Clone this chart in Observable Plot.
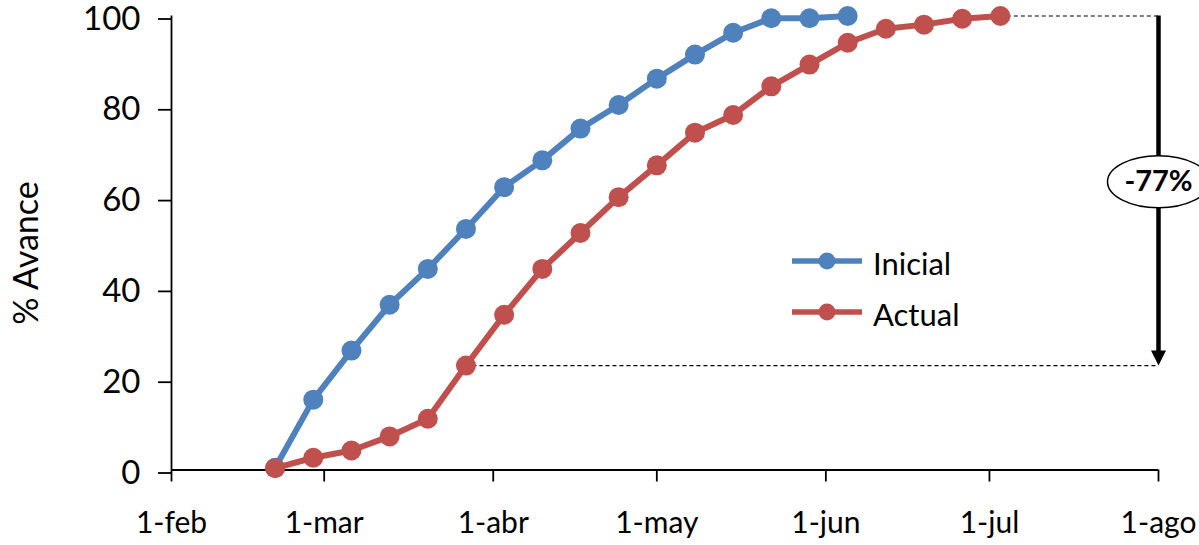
<!DOCTYPE html>
<html>
<head>
<meta charset="utf-8">
<script src="https://cdn.jsdelivr.net/npm/d3@7"></script>
<script src="https://cdn.jsdelivr.net/npm/@observablehq/plot@0.6"></script>
<style>
  html, body { margin: 0; padding: 0; background: #fff; }
  #chart { position: relative; width: 1199px; height: 545px; overflow: hidden; font-family: Lato, "Open Sans", sans-serif; }
  .leg { position: absolute; display: flex; align-items: center; font-size: 31px; color: #000; }
  .leg svg { margin-right: 11px; }
  .leg span { position: relative; top: 2px; }
</style>
</head>
<body>
<div id="chart"></div>
<script>
// ---- data ----
const fechas = ["2011-02-20","2011-02-27","2011-03-06","2011-03-13","2011-03-20","2011-03-27",
  "2011-04-03","2011-04-10","2011-04-17","2011-04-24","2011-05-01","2011-05-08","2011-05-15",
  "2011-05-22","2011-05-29","2011-06-05","2011-06-12","2011-06-19","2011-06-26","2011-07-03"];
const inicial = [0.5, 15.5, 26.3, 36.4, 44.3, 53.1, 62.3, 68.2, 75.2, 80.4, 86.2, 91.5, 96.3, 99.5, 99.5, 100];
const actual  = [0.4, 2.7, 4.3, 7.4, 11.3, 23.0, 34.2, 44.3, 52.2, 60.1, 67.1, 74.3, 78.2, 84.5, 89.3, 94.1, 97.2, 98.1, 99.4, 100];
const tickFechas = ["2011-02-01","2011-03-01","2011-04-01","2011-05-01","2011-06-01","2011-07-01","2011-08-01"];
const tickEtiquetas = ["1-feb","1-mar","1-abr","1-may","1-jun","1-jul","1-ago"];
const yTicks = [0, 20, 40, 60, 80, 100];
const series = ["Inicial", "Actual"];
const colores = ["#4F81BD", "#C0504D"];
const brechaIndice = 5;          // Actual point the gap is measured to
const brechaEtiqueta = "-77%";
const yLabel = "% Avance";

// ---- build ----
const parse = d3.utcParse("%Y-%m-%d");
const ticks = tickFechas.map(parse);
const dInicial = inicial.map((v, i) => ({fecha: parse(fechas[i]), valor: v}));
const dActual = actual.map((v, i) => ({fecha: parse(fechas[i]), valor: v}));
const xEnd = ticks[ticks.length - 1];
const last = dActual[dActual.length - 1];
const gap = dActual[brechaIndice];
const fmt = d => tickEtiquetas[ticks.findIndex(t => +t === +d)];

const triDown = { draw(ctx) { ctx.moveTo(0, 0); ctx.lineTo(-7.5, -15); ctx.lineTo(7.5, -15); ctx.closePath(); } };
const ellipse = { draw(ctx) {
  const rx = 51, ry = 26, k = 0.5523;
  ctx.moveTo(rx, 0);
  ctx.bezierCurveTo(rx, ry * k, rx * k, ry, 0, ry);
  ctx.bezierCurveTo(-rx * k, ry, -rx, ry * k, -rx, 0);
  ctx.bezierCurveTo(-rx, -ry * k, -rx * k, -ry, 0, -ry);
  ctx.bezierCurveTo(rx * k, -ry, rx, -ry * k, rx, 0);
  ctx.closePath();
} };

const plot = Plot.plot({
  width: 1199, height: 545,
  marginLeft: 171, marginRight: 41, marginTop: 15.5, marginBottom: 75.5,
  style: {fontFamily: "Lato, 'Open Sans', sans-serif", background: "white", color: "black", overflow: "visible"},
  x: {type: "utc", domain: [ticks[0], xEnd]},
  y: {domain: [0, 100]},
  marks: [
    Plot.axisY({ticks: yTicks, tickSize: 13, tickPadding: 18, fontSize: 33, dy: 3, label: null, strokeWidth: 1.8}),
    Plot.axisX({ticks: ticks, tickFormat: fmt, tickSize: 12, tickPadding: 30, fontSize: 30, label: null, strokeWidth: 1.8}),
    Plot.ruleX([ticks[0]], {y1: 0, y2: 100, stroke: "black", strokeWidth: 1.8}),
    Plot.ruleY([0], {stroke: "black", strokeWidth: 1.8}),
    Plot.text([yLabel], {frameAnchor: "left", textAnchor: "middle", rotate: -90, dx: -144, dy: 10, fontSize: 34, fill: "black"}),
    // dashed reference lines
    Plot.ruleY([last], {y: "valor", x1: "fecha", x2: () => xEnd, stroke: "#000", strokeWidth: 1.1, strokeDasharray: "4,3"}),
    Plot.ruleY([gap], {y: "valor", x1: "fecha", x2: () => xEnd, stroke: "#000", strokeWidth: 1.1, strokeDasharray: "4,3"}),
    // series
    Plot.line(dInicial, {x: "fecha", y: "valor", stroke: colores[0], strokeWidth: 6}),
    Plot.dot(dInicial, {x: "fecha", y: "valor", r: 10, fill: colores[0]}),
    Plot.line(dActual, {x: "fecha", y: "valor", stroke: colores[1], strokeWidth: 6}),
    Plot.dot(dActual, {x: "fecha", y: "valor", r: 10, fill: colores[1]}),
    // gap arrow
    Plot.ruleX([xEnd], {y1: last.valor, y2: gap.valor + 2.5, stroke: "black", strokeWidth: 4.5}),
    Plot.dot([{x: xEnd, y: gap.valor}], {x: "x", y: "y", symbol: triDown, r: 5, fill: "black", stroke: "none"}),
    Plot.dot([{x: xEnd, y: (last.valor + gap.valor) / 2}], {x: "x", y: "y", symbol: ellipse, r: 5, fill: "white", stroke: "black", strokeWidth: 1.5, dy: -9}),
    Plot.text([{x: xEnd, y: (last.valor + gap.valor) / 2}], {x: "x", y: "y", text: () => brechaEtiqueta, fontSize: 29, fontWeight: "bold", fill: "black", dy: -9})
  ]
});
const chart = document.getElementById("chart");
chart.appendChild(plot);

// legend (overlay inside the plot area)
const legTops = [242, 293];
series.forEach((s, i) => {
  const div = document.createElement("div");
  div.className = "leg";
  div.style.left = "792px";
  div.style.top = legTops[i] + "px";
  div.innerHTML = `<svg width="70" height="32"><line x1="0" x2="70" y1="16" y2="16" stroke="${colores[i]}" stroke-width="5.5"/><circle cx="35" cy="16" r="8.5" fill="${colores[i]}"/></svg><span>${s}</span>`;
  chart.appendChild(div);
});
</script>
</body>
</html>
